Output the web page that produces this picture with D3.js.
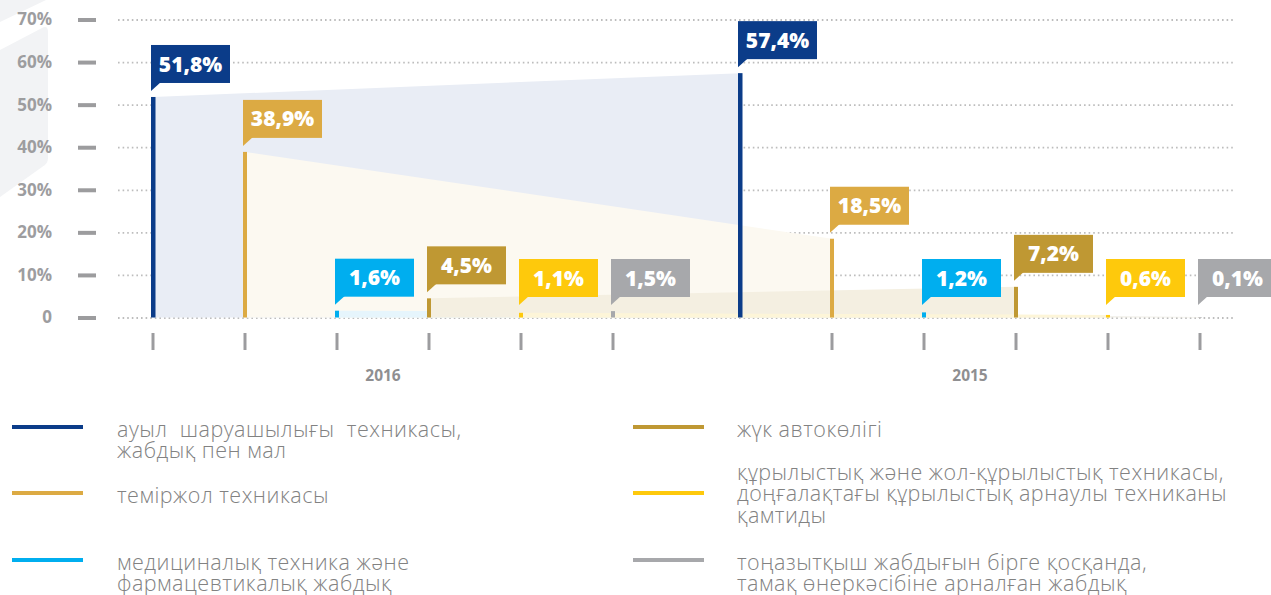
<!DOCTYPE html>
<html>
<head>
<meta charset="utf-8">
<script src="https://cdn.jsdelivr.net/npm/d3@7"></script>
<style>
  body { margin: 0; background: #fff; }
  svg { display: block; font-family: "Open Sans", sans-serif; }
  .grid line { stroke: #bdbdbd; stroke-width: 1.8; stroke-dasharray: 1.6 3; }
  .axis--y line { stroke: #9c9c9e; stroke-width: 4; }
  .axis--y text { fill: #9d9d9f; font-size: 17px; font-weight: 700; font-family: "Open Sans", sans-serif; }
  .box text { fill: #fff; font-size: 21px; font-weight: 800; }
  .legend text { fill: #828282; font-size: 21.5px; font-weight: 300; letter-spacing: 0.5px; }
</style>
</head>
<body>
<svg id="chart" width="1271" height="595"></svg>
<script>
// Data
var years = ["2016", "2015"];

var categories = [
  "ауыл  шаруашылығы  техникасы,\nжабдық пен мал",
  "теміржол техникасы",
  "медициналық техника және\nфармацевтикалық жабдық",
  "жүк автокөлігі",
  "құрылыстық және жол-құрылыстық техникасы,\nдоңғалақтағы құрылыстық арнаулы техниканы\nқамтиды",
  "тоңазытқыш жабдығын бірге қосқанда,\nтамақ өнеркәсібіне арналған жабдық"
];

var share2016 = [51.8, 38.9, 1.6, 4.5, 1.1, 1.5];
var share2015 = [57.4, 18.5, 1.2, 7.2, 0.6, 0.1];

var yTicks = [0, 10, 20, 30, 40, 50, 60, 70];

// Colours for lines / boxes and the light fills between years
var colors = ["#0b3c89", "#dcaa43", "#00aeef", "#bf9833", "#fec90c", "#a7a8ab"];
var fills  = ["#e9edf5", "#fcf9f1", "#e6f5fc", "#f4efe1", "#fdf5d8", "#f1efe8"];
var areaOrder = [0, 1, 2, 5, 3, 4];

var shares = { "2016": share2016, "2015": share2015 };

var svg = d3.select("#chart");

// Faint decoration at the left edge
svg.append("path")
    .attr("d", "M0,50 L42,28 Q48,25 48,32 L48,158 Q48,164 42,167 L0,197 Z")
    .attr("fill", "#f2f3f5");
svg.append("path")
    .attr("d", "M0,0 L46,0 L0,22 Z")
    .attr("fill", "#f2f3f5");

// Scales
var y = d3.scaleLinear()
    .domain([0, 70])
    .range([317.5, 19.5]);

var xYear = d3.scalePoint()
    .domain(years)
    .range([153, 740]);

var xCat = d3.scaleLinear()
    .domain([0, categories.length - 1])
    .range([0, 460]);

function xPos(year, i) { return xYear(year) + xCat(i); }

var fmt = function(v) { return d3.format(".1f")(v).replace(".", ",") + "%"; };

// Dotted grid
svg.append("g")
    .attr("class", "grid")
    .attr("transform", "translate(118,0)")
    .call(d3.axisLeft(y).tickValues(yTicks).tickSize(-1117).tickFormat(""))
    .call(function(g) { g.select(".domain").remove(); });

// Y axis (dashes + labels)
svg.append("g")
    .attr("class", "axis--y")
    .attr("transform", "translate(96,0)")
    .call(d3.axisLeft(y)
        .tickValues(yTicks)
        .tickSize(18)
        .tickPadding(26)
        .tickFormat(function(d) { return d ? d + "%" : "0"; }))
    .call(function(g) { g.select(".domain").remove(); });

// Areas linking the two years for each category
var area = d3.area()
    .x(function(d) { return d.x; })
    .y0(y(0))
    .y1(function(d) { return y(d.v); });

areaOrder.forEach(function(i) {
  var pts = years.map(function(yr) { return { x: xPos(yr, i), v: shares[yr][i] }; });
  svg.append("path")
      .datum(pts)
      .attr("fill", fills[i])
      .attr("d", area);
});

// Bars and callout boxes
years.forEach(function(yr) {
  shares[yr].forEach(function(v, i) {
    var x0 = xPos(yr, i);
    svg.append("rect")
        .attr("x", x0 - 2)
        .attr("y", y(v))
        .attr("width", i === 0 ? 4.5 : 4)
        .attr("height", y(0) - y(v))
        .attr("fill", colors[i]);

    var bottom = Math.min(y(v) - 14, 297);
    var box = svg.append("g")
        .attr("class", "box")
        .attr("transform", "translate(" + (x0 - 2) + "," + (bottom - 38) + ")");
    box.append("rect")
        .attr("width", 79)
        .attr("height", 38)
        .attr("fill", colors[i]);
    box.append("path")
        .attr("d", "M0,37 L10,37 L0,46 Z")
        .attr("fill", colors[i]);
    box.append("text")
        .attr("x", 39.5)
        .attr("y", 19)
        .attr("dy", "0.36em")
        .attr("text-anchor", "middle")
        .text(fmt(v));
  });
});

// Bottom ticks (none under the first bar of the second year)
years.forEach(function(yr, k) {
  d3.range(categories.length).forEach(function(i) {
    if (k === 1 && i === 0) return;
    svg.append("line")
        .attr("x1", xPos(yr, i)).attr("x2", xPos(yr, i))
        .attr("y1", 333).attr("y2", 350)
        .attr("stroke", "#9c9c9f")
        .attr("stroke-width", 3);
  });
  svg.append("text")
      .attr("x", (xPos(yr, 0) + xPos(yr, categories.length - 1)) / 2)
      .attr("y", 381)
      .attr("text-anchor", "middle")
      .attr("fill", "#8f8f91")
      .attr("font-size", "15.5px")
      .attr("font-weight", 700)
      .text(yr);
});

// Legend: two columns of three
var legend = svg.append("g").attr("class", "legend");
var colX = [12, 633], textX = [117, 737], rowY = [427, 493, 560];

categories.forEach(function(name, i) {
  var col = Math.floor(i / 3), row = i % 3;
  var lines = name.split("\n");
  legend.append("line")
      .attr("x1", colX[col]).attr("x2", colX[col] + 71)
      .attr("y1", rowY[row]).attr("y2", rowY[row])
      .attr("stroke", colors[i])
      .attr("stroke-width", 4);
  var first = rowY[row] + 2 - Math.floor((lines.length - 1) / 2) * 23;
  var t = legend.append("text")
      .attr("x", textX[col])
      .attr("y", first)
      .attr("xml:space", "preserve");
  lines.forEach(function(l, j) {
    t.append("tspan")
        .attr("x", textX[col])
        .attr("y", first + j * 21.5)
        .attr("dy", "0.35em")
        .text(l);
  });
});
</script>
</body>
</html>
